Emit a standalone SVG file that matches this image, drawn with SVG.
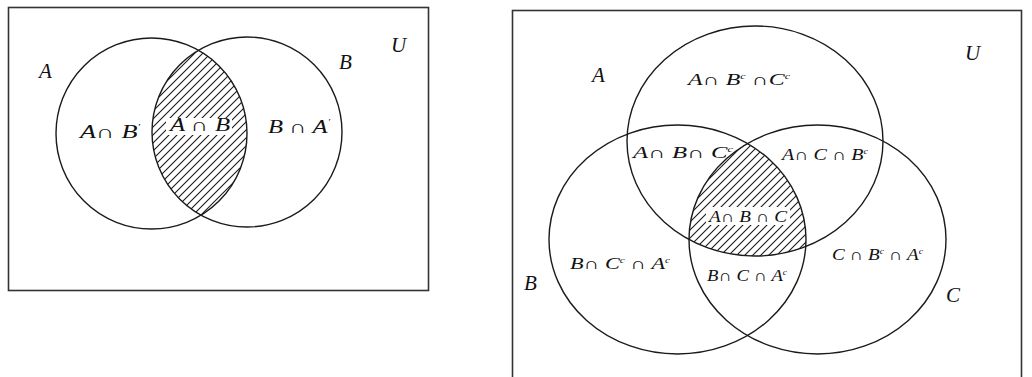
<svg xmlns="http://www.w3.org/2000/svg" width="1032" height="377" viewBox="0 0 1032 377">
<style>
.frame{fill:none;stroke:#333;stroke-width:1.6}
.set{fill:none;stroke:#1a1a1a;stroke-width:1.4}
.lbl{font-family:'Liberation Serif','Times New Roman',serif;font-style:italic;fill:#111}
.big{font-size:21px}
.mid{font-size:18px}
.sm{font-size:16px}
.sup{font-size:8px}
</style>
<defs>
<pattern id="hatch" patternUnits="userSpaceOnUse" width="8" height="8">
<path d="M-1,9 L9,-1 M-3,3 L3,-3 M5,11 L11,5" stroke="#1a1a1a" stroke-width="1.1"/>
</pattern>
<clipPath id="clipB2"><circle cx="247" cy="132" r="95"/></clipPath>
<clipPath id="clipB3"><ellipse cx="677.5" cy="239.5" rx="128.5" ry="114.5"/></clipPath>
<clipPath id="clipC3"><ellipse cx="817.5" cy="239.5" rx="128.5" ry="114.5"/></clipPath>
</defs>
<rect width="1032" height="377" fill="#fff"/>

<g id="venn2">
<rect class="frame" x="8.5" y="7.5" width="420" height="283"/>
<g id="hatch2" clip-path="url(#clipB2)">
<circle cx="151.5" cy="133.5" r="95.5" fill="url(#hatch)"/>
</g>
<rect x="166" y="118" width="66" height="17" fill="#fff"/>
<g id="setA2"><circle class="set" cx="151.5" cy="133.5" r="95.5"/><text class="lbl big" x="39" y="78">A</text></g>
<g id="setB2"><circle class="set" cx="247" cy="132" r="95"/><text class="lbl big" x="339" y="69">B</text></g>
<text class="lbl big" x="391" y="52">U</text>
<text class="lbl mid" x="80" y="138" textLength="60" lengthAdjust="spacingAndGlyphs">A∩ B<tspan class="sup" dy="-8">'</tspan></text>
<text class="lbl mid" x="170" y="131" textLength="60" lengthAdjust="spacingAndGlyphs">A ∩ B</text>
<text class="lbl mid" x="268" y="133" textLength="62" lengthAdjust="spacingAndGlyphs">B ∩ A<tspan class="sup" dy="-8">'</tspan></text>
</g>

<g id="venn3">
<rect class="frame" x="512.5" y="10.5" width="509" height="380"/>
<g id="hatch3" clip-path="url(#clipB3)"><g clip-path="url(#clipC3)">
<ellipse cx="755" cy="141" rx="128" ry="115" fill="url(#hatch)"/>
</g></g>
<rect x="706" y="207" width="84" height="18" fill="#fff"/>
<g id="setA3"><ellipse class="set" cx="755" cy="141" rx="128" ry="115"/><text class="lbl big" x="592" y="82">A</text></g>
<g id="setB3"><ellipse class="set" cx="677.5" cy="239.5" rx="128.5" ry="114.5"/><text class="lbl big" x="524" y="290">B</text></g>
<g id="setC3"><ellipse class="set" cx="817.5" cy="239.5" rx="128.5" ry="114.5"/><text class="lbl big" x="946" y="302">C</text></g>
<text class="lbl big" x="965" y="60">U</text>
<text class="lbl sm" x="688" y="85" textLength="102" lengthAdjust="spacingAndGlyphs">A∩ B<tspan class="sup" dy="-6">c</tspan><tspan dy="6"> ∩C</tspan><tspan class="sup" dy="-6">c</tspan></text>
<text class="lbl sm" x="633" y="158" textLength="100" lengthAdjust="spacingAndGlyphs">A∩ B∩ C<tspan class="sup" dy="-6">c</tspan></text>
<text class="lbl sm" x="782" y="160" textLength="86" lengthAdjust="spacingAndGlyphs">A∩ C ∩ B<tspan class="sup" dy="-6">c</tspan></text>
<text class="lbl sm" x="709" y="222" textLength="78" lengthAdjust="spacingAndGlyphs">A∩ B ∩ C</text>
<text class="lbl sm" x="570" y="269" textLength="100" lengthAdjust="spacingAndGlyphs">B∩ C<tspan class="sup" dy="-6">c</tspan><tspan dy="6"> ∩ A</tspan><tspan class="sup" dy="-6">c</tspan></text>
<text class="lbl sm" x="707" y="281" textLength="80" lengthAdjust="spacingAndGlyphs">B∩ C ∩ A<tspan class="sup" dy="-6">c</tspan></text>
<text class="lbl sm" x="832" y="260" textLength="91" lengthAdjust="spacingAndGlyphs">C ∩ B<tspan class="sup" dy="-6">c</tspan><tspan dy="6"> ∩ A</tspan><tspan class="sup" dy="-6">c</tspan></text>
</g>
</svg>
